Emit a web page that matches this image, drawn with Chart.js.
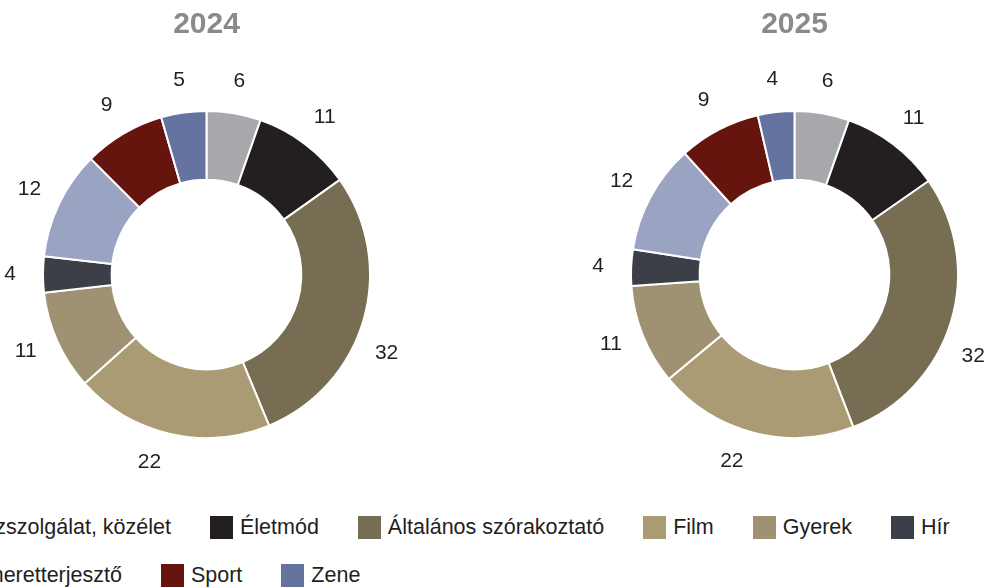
<!DOCTYPE html>
<html lang="hu">
<head>
<meta charset="UTF-8">
<meta name="viewport" content="width=device-width, initial-scale=1.0">
<title>Műfajok megoszlása 2024 / 2025</title>
<script src="https://cdn.jsdelivr.net/npm/chart.js"></script>
<style>
    body { margin: 0; width: 984px; height: 588px; overflow: hidden; background: #fff; position: relative;
           font-family: "Liberation Sans", Arial, sans-serif; }
    .pie { position: absolute; top: 0; width: 460px; height: 500px; }
    #legend { position: absolute; left: -61px; top: 516px; width: 1060px; display: flex; flex-wrap: wrap; row-gap: 25px; }
    .item { display: flex; align-items: center; height: 23px; margin-right: 39px; font-size: 21.5px; color: #231F20; white-space: nowrap; }
    .box { width: 23px; height: 23px; margin-right: 7px; flex: none; }
</style>
</head>
<body>
    <div class="pie" style="left:-23px"><canvas id="chart2024"></canvas></div>
    <div class="pie" style="left:565px"><canvas id="chart2025"></canvas></div>
    <div id="legend"></div>

<script>
    const categories = ["Közszolgálat, közélet", "Életmód", "Általános szórakoztató", "Film", "Gyerek", "Hír", "Ismeretterjesztő", "Sport", "Zene"];
    const colors = ["#A7A8AC", "#231F20", "#776D52", "#AA9B74", "#9F9272", "#3D3F48", "#9AA3C2", "#65140E", "#6473A0"];
    const values2024 = [6, 11, 32, 22, 11, 4, 12, 9, 5];
    const values2025 = [6, 11, 32, 22, 11, 4, 12, 9, 4];

    const FONT = '"Liberation Sans", Arial, sans-serif';

    // value labels outside each slice, around the middle angle
    const outsideLabels = {
        id: "outsideLabels",
        afterDatasetsDraw(chart, args, opts) {
            const ctx = chart.ctx;
            const meta = chart.getDatasetMeta(0);
            const data = chart.data.datasets[0].data;
            const nudge = opts.nudgeDeg || [];
            ctx.save();
            ctx.font = "21px " + FONT;
            ctx.fillStyle = "#231F20";
            ctx.textAlign = "center";
            ctx.textBaseline = "middle";
            meta.data.forEach((arc, i) => {
                const p = arc.getProps(["x", "y", "startAngle", "endAngle", "outerRadius"], true);
                const mid = (p.startAngle + p.endAngle) / 2 + (nudge[i] || 0) * Math.PI / 180;
                const r = p.outerRadius + 33;
                ctx.fillText(data[i], p.x + Math.cos(mid) * r, p.y + Math.sin(mid) * r);
            });
            ctx.restore();
        }
    };

    function makeChart(id, year, values) {
        new Chart(document.getElementById(id), {
            type: "doughnut",
            data: {
                labels: categories,
                datasets: [{
                    data: values,
                    backgroundColor: colors,
                    borderColor: "#ffffff",
                    borderWidth: 2
                }]
            },
            options: {
                responsive: true,
                maintainAspectRatio: false,
                animation: false,
                cutout: "58%",
                layout: { padding: { left: 65, right: 66, top: 0, bottom: 61 } },
                plugins: {
                    legend: { display: false },
                    tooltip: { enabled: false },
                    outsideLabels: { nudgeDeg: [0, 0, 7.5, 4, 1, 0, 0, 0, 0] },
                    title: {
                        display: true,
                        text: year,
                        color: "#8A8A8D",
                        font: { family: FONT, size: 30, weight: "bold" },
                        padding: { top: 7, bottom: 67 }
                    }
                }
            },
            plugins: [outsideLabels]
        });
    }

    makeChart("chart2024", "2024", values2024);
    makeChart("chart2025", "2025", values2025);

    // shared legend below both doughnuts
    const legend = document.getElementById("legend");
    categories.forEach((name, i) => {
        const item = document.createElement("div");
        item.className = "item";
        const box = document.createElement("span");
        box.className = "box";
        box.style.background = colors[i];
        const label = document.createElement("span");
        label.textContent = name;
        item.appendChild(box);
        item.appendChild(label);
        legend.appendChild(item);
    });
</script>
</body>
</html>
